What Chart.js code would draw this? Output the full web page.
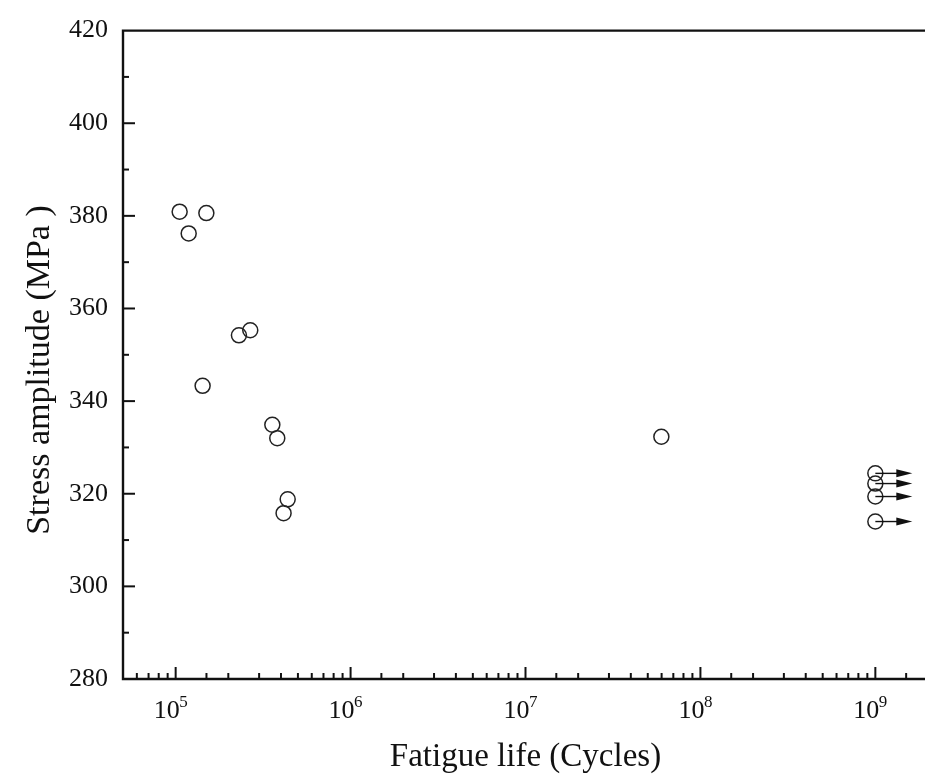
<!DOCTYPE html>
<html>
<head>
<meta charset="utf-8">
<script src="https://cdn.jsdelivr.net/npm/chart.js@4.4.1/dist/chart.umd.min.js"></script>
<style>
  html, body { margin: 0; padding: 0; background: #fff; overflow: hidden; }
  canvas { display: block; }
</style>
</head>
<body>
<canvas id="sn" width="940" height="776"></canvas>
<script>
// fatigue data (cycles, MPa)
const lifeCycles = [1.054e5, 1.498e5, 1.187e5, 1.426e5, 2.30e5, 2.67e5, 3.57e5, 3.81e5, 4.37e5, 4.14e5, 5.98e7];
const stressMPa = [380.9, 380.6, 376.2, 343.3, 354.2, 355.3, 334.9, 332.0, 318.8, 315.8, 332.3];

// run-outs (no failure at 1e9)
const runoutCycles = [1e9, 1e9, 1e9, 1e9];
const runoutStress = [324.4, 322.2, 319.4, 314.0];

const xMin = 5e4, xMax = 2e9;
const yMin = 280, yMax = 420, yStep = 10, yLabelStep = 20;

const FONT = "'Liberation Serif', 'Times New Roman', serif";
const INK = "#111";

const toPts = (xs, ys) => xs.map((x, i) => ({ x, y: ys[i] }));

// frame, inward ticks, x labels with exponents, run-out arrows, axis titles
const decor = {
  id: "decor",
  afterDraw(chart) {
    const { ctx, chartArea: a, scales } = chart;
    const x = scales.x, y = scales.y;
    ctx.save();
    ctx.strokeStyle = INK;
    ctx.fillStyle = INK;

    // frame
    ctx.lineWidth = 2.4;
    ctx.beginPath();
    ctx.moveTo(a.left, a.top); ctx.lineTo(a.right, a.top);
    ctx.lineTo(a.right, a.bottom); ctx.lineTo(a.left, a.bottom);
    ctx.closePath();
    ctx.stroke();

    // x ticks
    ctx.lineWidth = 2;
    x.ticks.forEach((t) => {
      const px = x.getPixelForValue(t.value);
      if (px <= a.left + 1 || px >= a.right - 1) return;
      const major = Math.abs(Math.log10(t.value) - Math.round(Math.log10(t.value))) < 1e-9;
      const len = major ? 12 : 6;
      ctx.beginPath();
      ctx.moveTo(px, a.bottom); ctx.lineTo(px, a.bottom - len);
      ctx.stroke();
      if (major) {
        const e = Math.round(Math.log10(t.value));
        ctx.textBaseline = "alphabetic";
        ctx.font = `26px ${FONT}`;
        ctx.textAlign = "right";
        ctx.fillText("10", px + 4, 718);
        ctx.font = `17px ${FONT}`;
        ctx.textAlign = "left";
        ctx.fillText(String(e), px + 3.5, 707);
      }
    });

    // y ticks
    y.ticks.forEach((t) => {
      const py = y.getPixelForValue(t.value);
      if (py <= a.top + 1 || py >= a.bottom - 1) return;
      const len = t.value % yLabelStep === 0 ? 12 : 6;
      ctx.beginPath();
      ctx.moveTo(a.left, py); ctx.lineTo(a.left + len, py);
      ctx.stroke();
    });

    // run-out arrows
    ctx.lineWidth = 1.4;
    const meta = chart.getDatasetMeta(1);
    meta.data.forEach((pt) => {
      const cx = pt.x, cy = pt.y;
      ctx.beginPath();
      ctx.moveTo(cx, cy); ctx.lineTo(cx + 24, cy);
      ctx.stroke();
      ctx.beginPath();
      ctx.moveTo(cx + 21, cy - 4);
      ctx.lineTo(cx + 37, cy);
      ctx.lineTo(cx + 21, cy + 4);
      ctx.closePath();
      ctx.fill();
    });

    // axis titles
    ctx.font = `33px ${FONT}`;
    ctx.textAlign = "center";
    ctx.textBaseline = "alphabetic";
    ctx.fillText("Fatigue life (Cycles)", (a.left + a.right) / 2, 766);
    ctx.font = `34px ${FONT}`;
    ctx.translate(49, 370);
    ctx.rotate(-Math.PI / 2);
    ctx.fillText("Stress amplitude (MPa )", 0, 0);
    ctx.restore();
  },
};

new Chart(document.getElementById("sn"), {
  type: "scatter",
  data: {
    datasets: [
      {
        label: "Failure",
        data: toPts(lifeCycles, stressMPa),
        pointRadius: 7.5,
        pointHoverRadius: 7.5,
        borderWidth: 1.5,
        borderColor: "#222",
        backgroundColor: "rgba(0,0,0,0)",
        clip: false,
      },
      {
        label: "Run-out",
        data: toPts(runoutCycles, runoutStress),
        pointRadius: 7.5,
        pointHoverRadius: 7.5,
        borderWidth: 1.5,
        borderColor: "#222",
        backgroundColor: "rgba(0,0,0,0)",
        clip: false,
      },
    ],
  },
  options: {
    responsive: false,
    animation: false,
    events: [],
    layout: { padding: { top: 29, right: 12, left: 0, bottom: 0 } },
    plugins: { legend: { display: false }, tooltip: { enabled: false } },
    scales: {
      x: {
        type: "logarithmic",
        min: xMin,
        max: xMax,
        grid: { display: false, drawTicks: false },
        border: { display: false },
        ticks: { display: false },
        afterFit: (s) => { s.height = 97; },
      },
      y: {
        type: "linear",
        min: yMin,
        max: yMax,
        grid: { display: false, drawTicks: false },
        border: { display: false },
        ticks: {
          stepSize: yStep,
          autoSkip: false,
          padding: 15,
          color: INK,
          font: { family: FONT, size: 26 },
          callback: (v) => (v % yLabelStep === 0 ? String(v) : ""),
        },
        afterFit: (s) => { s.width = 123; },
      },
    },
  },
  plugins: [decor],
});
</script>
</body>
</html>
